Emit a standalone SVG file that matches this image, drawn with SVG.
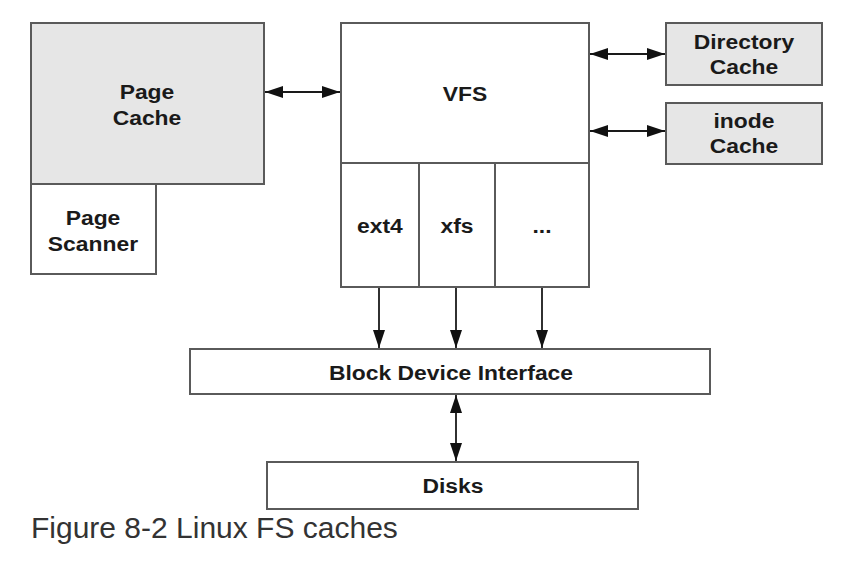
<svg xmlns="http://www.w3.org/2000/svg" width="854" height="564" viewBox="0 0 854 564">
<defs>
<style>
.box{fill:#ffffff;stroke:#5a5a5a;stroke-width:2}
.gbox{fill:#e6e6e6;stroke:#5a5a5a;stroke-width:2}
.t{font-family:"Liberation Sans",Arial,sans-serif;font-weight:bold;font-size:21px;fill:#1a1a1a;text-anchor:middle;transform-box:fill-box;transform-origin:center;transform:scaleX(1.09)}
.c{stroke:#1a1a1a;stroke-width:1.8;fill:none}
.cap{font-family:"Liberation Sans",Arial,sans-serif;font-size:30px;fill:#333333}
</style>
<marker id="ah" viewBox="0 0 18 12" refX="18" refY="6" markerWidth="18" markerHeight="12" markerUnits="userSpaceOnUse" orient="auto-start-reverse">
<path d="M0,0 L18,6 L0,12 z" fill="#111111"/>
</marker>
</defs>
<rect width="854" height="564" fill="#ffffff"/>
<g id="page-scanner">
<rect class="box" x="31" y="184" width="125" height="90"/>
<text class="t" x="93" y="225">Page</text>
<text class="t" x="93" y="251">Scanner</text>
</g>
<g id="page-cache">
<rect class="gbox" x="31" y="23" width="233" height="161"/>
<text class="t" x="147" y="99">Page</text>
<text class="t" x="147" y="125">Cache</text>
</g>
<g id="vfs">
<rect class="box" x="341" y="23" width="248" height="140"/>
<text class="t" x="465" y="101">VFS</text>
</g>
<g id="ext4">
<rect class="box" x="341" y="163" width="78" height="124"/>
<text class="t" x="380" y="233">ext4</text>
</g>
<g id="xfs">
<rect class="box" x="419" y="163" width="76" height="124"/>
<text class="t" x="457" y="233">xfs</text>
</g>
<g id="other-fs">
<rect class="box" x="495" y="163" width="94" height="124"/>
<text class="t" x="542" y="233">...</text>
</g>
<g id="directory-cache">
<rect class="gbox" x="666" y="23" width="156" height="62"/>
<text class="t" x="744" y="49">Directory</text>
<text class="t" x="744" y="74">Cache</text>
</g>
<g id="inode-cache">
<rect class="gbox" x="666" y="103" width="156" height="61"/>
<text class="t" x="744" y="128">inode</text>
<text class="t" x="744" y="153">Cache</text>
</g>
<g id="block-device-interface">
<rect class="box" x="190" y="349" width="520" height="45"/>
<text class="t" x="451" y="380">Block Device Interface</text>
</g>
<g id="disks">
<rect class="box" x="267" y="462" width="371" height="47"/>
<text class="t" x="453" y="493">Disks</text>
</g>
<g id="connectors">
<line class="c" x1="265" y1="92" x2="340" y2="92" marker-start="url(#ah)" marker-end="url(#ah)"/>
<line class="c" x1="590" y1="54" x2="665" y2="54" marker-start="url(#ah)" marker-end="url(#ah)"/>
<line class="c" x1="590" y1="131" x2="665" y2="131" marker-start="url(#ah)" marker-end="url(#ah)"/>
<line class="c" x1="379" y1="288" x2="379" y2="348" marker-end="url(#ah)"/>
<line class="c" x1="456" y1="288" x2="456" y2="348" marker-end="url(#ah)"/>
<line class="c" x1="542" y1="288" x2="542" y2="348" marker-end="url(#ah)"/>
<line class="c" x1="456" y1="395" x2="456" y2="461" marker-start="url(#ah)" marker-end="url(#ah)"/>
</g>
<text class="cap" x="31" y="538">Figure 8-2 Linux FS caches</text>
</svg>
